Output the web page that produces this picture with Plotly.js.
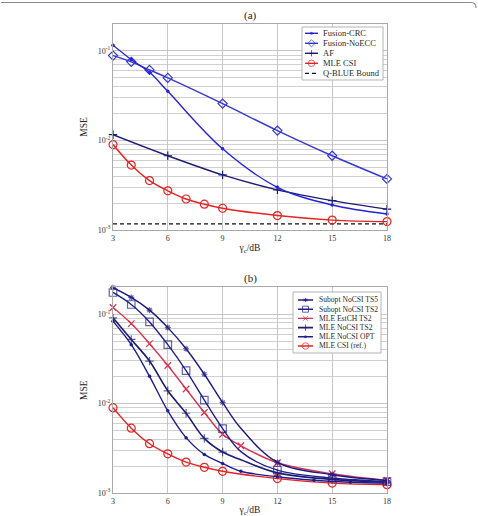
<!DOCTYPE html>
<html>
<head>
<meta charset="utf-8">
<script src="https://cdn.plot.ly/plotly-3.0.1.min.js"></script>
<style>
html, body { margin: 0; padding: 0; background: #fff; }
#chart { width: 478px; height: 516px; }
</style>
</head>
<body>
<div id="chart"></div>
<script>
// ---------- panel (a): fusion schemes ----------
const xFusion     = [3, 4, 5, 6, 9, 12, 15, 18];
const fusionCRC   = [0.116, 0.080, 0.0577, 0.0354, 0.00807, 0.0030, 0.0019, 0.00151];
const fusionNoECC = [0.0887, 0.0755, 0.0614, 0.050, 0.0258, 0.0129, 0.00675, 0.00372];
const xAF         = [3, 6, 9, 12, 15, 18];
const afMSE       = [0.0116, 0.00675, 0.00413, 0.00281, 0.00213, 0.00171];
const xCSI        = [3, 4, 5, 6, 7, 8, 9, 12, 15, 18];
const mleCSI      = [0.0090, 0.00531, 0.00356, 0.00274, 0.00222, 0.00194, 0.00175, 0.00145, 0.00129, 0.00124];
const xBound      = [3, 18];
const qBlueBound  = [0.00117, 0.00117];

// ---------- panel (b): channel knowledge ----------
const xTS5      = [3, 4, 5, 6, 7, 8, 9, 10, 12, 15, 18];
const subTS5    = [0.198, 0.154, 0.111, 0.0708, 0.0411, 0.0213, 0.0103, 0.0053, 0.0022, 0.0016, 0.00138];
const xTS2      = [3, 4, 5, 6, 7, 8, 9, 10, 12, 15, 18];
const subTS2    = [0.175, 0.1285, 0.082, 0.0456, 0.0234, 0.01094, 0.00526, 0.0029, 0.0018, 0.00147, 0.00134];
const xEstCH    = [3, 4, 5, 6, 7, 8, 9, 10, 12, 15, 18];
const estCH     = [0.119, 0.0785, 0.0468, 0.0267, 0.01456, 0.00796, 0.00454, 0.00338, 0.00218, 0.00164, 0.00138];
const xNoCSI    = [3, 4, 5, 6, 7, 8, 9, 10, 12, 15, 18];
const noCSITS2  = [0.091, 0.0522, 0.0299, 0.0139, 0.0078, 0.00408, 0.00287, 0.00235, 0.00168, 0.00142, 0.00132];
const xOPT      = [3, 4, 5, 6, 7, 8, 9, 10, 12, 14, 16, 18];
const noCSIOPT  = [0.0834, 0.0456, 0.0202, 0.0083, 0.00416, 0.0027, 0.00214, 0.00175, 0.00152, 0.00139, 0.00132, 0.00128];

// points that carry a marker (the others only shape the curve)
const markedTS5 = [3, 4, 5, 6, 7, 8, 9, 12, 15, 18];
const markedTS2 = [3, 4, 5, 6, 7, 8, 9, 12, 15, 18];
const markedNoCSI = [3, 4, 5, 6, 7, 8, 9, 12, 15, 18];

// ---------- ticks ----------
const xTicks = [3, 6, 9, 12, 15, 18];
const yDecades = [0.001, 0.01, 0.1];
const yDecadeLabels = ['10<sup>-3</sup>', '10<sup>-2</sup>', '10<sup>-1</sup>'];
const yMinor = [0.002, 0.003, 0.004, 0.005, 0.006, 0.007, 0.008, 0.009,
                0.02, 0.03, 0.04, 0.05, 0.06, 0.07, 0.08, 0.09, 0.2];

const SERIF = 'Liberation Serif, Times New Roman, serif';

// line / marker styles
const S = {
  crc:   { color: '#2424d4', symbol: 'circle',          size: 3.5, lw: 1.4 },
  noecc: { color: '#3636d2', symbol: 'diamond-open',    size: 7,   lw: 1.4 },
  af:    { color: '#1d1d78', symbol: 'cross-thin-open', size: 6,   lw: 1.4 },
  csi:   { color: '#e62222', symbol: 'circle-open',     size: 8,   lw: 1.4 },
  bound: { color: '#111111', symbol: null,              size: 0,   lw: 1.3, dash: '4px,3px' },
  ts5:   { color: '#1b1b80', symbol: 'asterisk-open',   size: 5,   lw: 1.4 },
  ts2:   { color: '#20208a', symbol: 'square-open',     size: 7.5, lw: 1.4 },
  est:   { color: '#d6344f', symbol: 'x-thin-open',     size: 6.5, lw: 1.4 },
  nocsi: { color: '#1c1c72', symbol: 'cross-thin-open', size: 6,   lw: 1.6 },
  opt:   { color: '#1e1e92', symbol: 'circle',          size: 3.5, lw: 1.4 }
};

function curve(x, y, st, xa, ya, marked) {
  const t = {
    type: 'scatter', x: x, y: y, xaxis: xa, yaxis: ya,
    mode: st.symbol ? 'lines+markers' : 'lines',
    line: { color: st.color, width: st.lw, shape: 'spline', smoothing: 1, dash: st.dash || 'solid' },
    hoverinfo: 'skip', cliponaxis: false, showlegend: false
  };
  if (st.symbol) {
    t.marker = {
      symbol: st.symbol, color: st.color,
      size: marked ? x.map(v => marked.includes(v) ? st.size : 0) : st.size,
      line: { color: st.color, width: st.symbol === 'circle' ? 0 : 1.2 }
    };
  }
  return t;
}

const traces = [
  curve(xBound, qBlueBound, S.bound, 'x', 'y'),
  curve(xCSI, mleCSI, S.csi, 'x', 'y'),
  curve(xAF, afMSE, S.af, 'x', 'y'),
  curve(xFusion, fusionNoECC, S.noecc, 'x', 'y'),
  curve(xFusion, fusionCRC, S.crc, 'x', 'y'),

  curve(xCSI, mleCSI, S.csi, 'x2', 'y2'),
  curve(xOPT, noCSIOPT, S.opt, 'x2', 'y2'),
  curve(xNoCSI, noCSITS2, S.nocsi, 'x2', 'y2', markedNoCSI),
  curve(xEstCH, estCH, S.est, 'x2', 'y2'),
  curve(xTS2, subTS2, S.ts2, 'x2', 'y2', markedTS2),
  curve(xTS5, subTS5, S.ts5, 'x2', 'y2', markedTS5)
];

// ---------- legends (drawn on pixel-scaled overlay axes) ----------
const annotations = [];
function legendBox(xa, ya, box, rowY, lineX, textX, fontSize, entries) {
  traces.push({
    type: 'scatter', xaxis: xa, yaxis: ya, mode: 'lines',
    x: [box[0], box[2], box[2], box[0], box[0]],
    y: [box[1], box[1], box[3], box[3], box[1]],
    fill: 'toself', fillcolor: '#ffffff',
    line: { color: '#b4b4b4', width: 1 }, hoverinfo: 'skip', showlegend: false
  });
  entries.forEach((e, i) => {
    const yy = rowY[i];
    const st = e.st;
    const mid = (lineX[0] + lineX[1]) / 2;
    const t = {
      type: 'scatter', xaxis: xa, yaxis: ya,
      x: [lineX[0], mid, lineX[1]], y: [yy, yy, yy],
      mode: 'lines',
      line: { color: st.color, width: st.lw, dash: st.dash || 'solid' },
      hoverinfo: 'skip', showlegend: false, cliponaxis: false
    };
    if (st.symbol) {
      t.mode = 'lines+markers';
      t.marker = {
        symbol: st.symbol, color: st.color, size: [0, Math.max(st.size - 1.5, 3), 0],
        line: { color: st.color, width: st.symbol === 'circle' ? 0 : 1 }
      };
    }
    traces.push(t);
    annotations.push({
      xref: xa, yref: ya, x: textX, y: yy, text: e.name,
      xanchor: 'left', yanchor: 'middle', showarrow: false,
      font: { family: SERIF, size: fontSize, color: '#2a2a2a' }
    });
  });
}

legendBox('x3', 'y3', [302, 27, 383, 80], [33.3, 43.3, 53.3, 63.3, 73.3], [305, 318], 321, 8.5, [
  { name: 'Fusion-CRC', st: S.crc },
  { name: 'Fusion-NoECC', st: S.noecc },
  { name: 'AF', st: S.af },
  { name: 'MLE CSI', st: S.csi },
  { name: 'Q-BLUE Bound', st: S.bound }
]);
legendBox('x4', 'y4', [293, 292, 381, 353], [300, 309.2, 318.4, 327.6, 336.8, 346], [298, 313], 316.5, 7.6, [
  { name: 'Subopt NoCSI TS5', st: S.ts5 },
  { name: 'Subopt NoCSI TS2', st: S.ts2 },
  { name: 'MLE EstCH TS2', st: S.est },
  { name: 'MLE NoCSI TS2', st: S.nocsi },
  { name: 'MLE NoCSI OPT', st: S.opt },
  { name: 'MLE CSI (ref.)', st: S.csi }
]);

// panel titles
annotations.push({ xref: 'paper', yref: 'paper', x: 0.5, y: 1.019, text: '(a)', showarrow: false,
  xanchor: 'center', yanchor: 'middle', font: { family: SERIF, size: 11, color: '#222' } });
annotations.push({ xref: 'paper', yref: 'paper', x: 0.5, y: 0.4584, text: '(b)', showarrow: false,
  xanchor: 'center', yanchor: 'middle', font: { family: SERIF, size: 11, color: '#222' } });

const gridColor = '#c6c6c6';
function xAxis(anchor) {
  return {
    anchor: anchor, range: [3, 18], tickmode: 'array', tickvals: xTicks,
    showgrid: true, gridcolor: gridColor, gridwidth: 1, zeroline: false,
    showline: true, linecolor: '#a9a9a9', linewidth: 1, mirror: true, ticks: '',
    tickfont: { family: SERIF, size: 8, color: '#333' },
    title: { text: '&#947;<sub>c</sub>/dB', font: { family: SERIF, size: 9.5, color: '#222' }, standoff: 2 }
  };
}
function yAxis(anchor, domain) {
  return {
    anchor: anchor, domain: domain, type: 'log', range: [-3, Math.log10(0.2)],
    tickmode: 'array', tickvals: yDecades, ticktext: yDecadeLabels,
    showgrid: true, gridcolor: gridColor, gridwidth: 1, zeroline: false,
    minor: { tickmode: 'array', tickvals: yMinor, showgrid: true, gridcolor: '#d0d0d0', gridwidth: 1, ticks: '' },
    showline: true, linecolor: '#a9a9a9', linewidth: 1, mirror: true, ticks: '',
    tickfont: { family: SERIF, size: 8, color: '#333' },
    title: { text: 'MSE', font: { family: SERIF, size: 9.5, color: '#222' }, standoff: 8 }
  };
}
function pixelAxis(over, range, anchor) {
  return { overlaying: over, anchor: anchor, range: range, visible: false, fixedrange: true };
}

const layout = {
  width: 478, height: 516,
  margin: { l: 113, r: 91, t: 24, b: 23 },
  paper_bgcolor: '#fff', plot_bgcolor: '#fff',
  font: { family: SERIF, color: '#333' },
  showlegend: false,
  xaxis: xAxis('y'),
  yaxis: yAxis('x', [0.5608, 1]),
  xaxis2: xAxis('y2'),
  yaxis2: yAxis('x2', [0, 0.4386]),
  xaxis3: pixelAxis('x', [113, 387], 'y3'),
  yaxis3: pixelAxis('y', [230, 24], 'x3'),
  xaxis4: pixelAxis('x2', [113, 387], 'y4'),
  yaxis4: pixelAxis('y2', [493, 287.3], 'x4'),
  annotations: annotations,
  shapes: [{
    type: 'path', xref: 'paper', yref: 'paper', layer: 'above',
    path: 'M -0.409,1.0458 L 1.306,1.0458 Q 1.3248,1.0458 1.3248,1.034',
    line: { color: '#8c8c8c', width: 1.2 }
  }]
};

Plotly.newPlot('chart', traces, layout, { staticPlot: true, displayModeBar: false });
</script>
</body>
</html>
